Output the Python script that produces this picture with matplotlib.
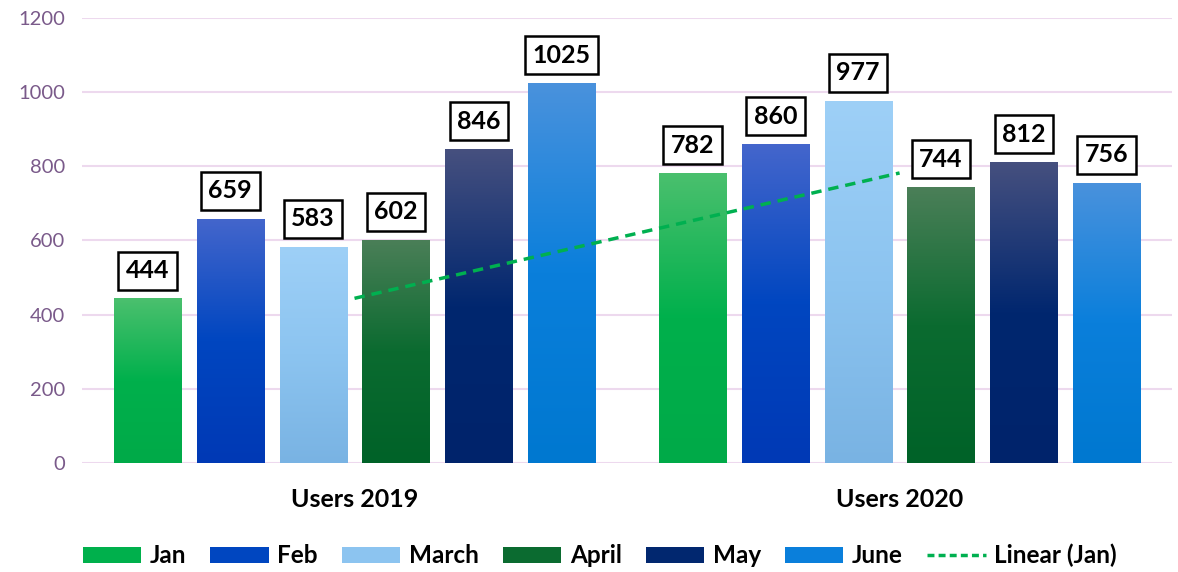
import numpy as np
import matplotlib
matplotlib.use('Agg')
import matplotlib.pyplot as plt
from matplotlib.colors import LinearSegmentedColormap
from matplotlib.patches import Patch
from matplotlib.lines import Line2D

# Data
groups = ['Users 2019', 'Users 2020']
months = ['Jan', 'Feb', 'March', 'April', 'May', 'June']
jan = [444, 782]
feb = [659, 860]
march = [583, 977]
april = [602, 744]
may = [846, 812]
june = [1025, 756]
series = [jan, feb, march, april, may, june]

# gradient colours: bottom, middle, top
tops = ['#4BC06E', '#4466CC', '#9ED0F7', '#4B7F58', '#46507F', '#4A92DD']
mids = ['#00B04C', '#0046C0', '#8CC4F0', '#0B6B30', '#01276F', '#0A7FDB']
bottoms = ['#00AA48', '#0039B5', '#79B3E3', '#006228', '#00236B', '#0078D0']

plt.rcParams['font.family'] = ['Lato', 'DejaVu Sans']

fig = plt.figure(figsize=(11.78, 5.72), dpi=100)
ax = fig.add_axes([0.0696, 0.1906, 0.9254, 0.778])

x = np.arange(len(groups))
pitch = 0.152
width = 0.123
for i, vals in enumerate(series):
    pos = x + (i - 2.5) * pitch
    bars = ax.bar(pos, vals, width, color='none', edgecolor='none', zorder=3)
    cmap = LinearSegmentedColormap.from_list('g%d' % i, [(0, bottoms[i]), (0.5, mids[i]), (1, tops[i])])
    for b, v in zip(bars, vals):
        grad = np.linspace(0, 1, 256).reshape(-1, 1)
        im = ax.imshow(grad, cmap=cmap, origin='lower', aspect='auto',
                       extent=[b.get_x(), b.get_x() + b.get_width(), 0, v], zorder=3)
        im.set_clip_path(b)
        ax.text(b.get_x() + b.get_width() / 2, v + 75, str(v), ha='center', va='center',
                fontsize=18, fontweight='bold', color='black', zorder=5,
                bbox=dict(boxstyle='square,pad=0.3', fc='white', ec='black', lw=1.8))

# linear trendline for Jan
coef = np.polyfit(x, jan, 1)
ax.plot(x, np.polyval(coef, x), color='#00B050', ls=(0, (3, 2)), lw=2.5, zorder=4)

ax.set_xlim(-0.5, 1.5)
ax.set_ylim(0, 1200)
ax.set_yticks(range(0, 1201, 200))
ax.set_xticks(x)
ax.set_xticklabels(groups, fontsize=18, fontweight='bold')
ax.tick_params(axis='x', length=0, pad=18)
ax.tick_params(axis='y', length=0, labelsize=14.5, labelcolor='#7A5A8A', pad=12)
ax.grid(axis='y', color='#EDD9EE', lw=1.5, zorder=0)
ax.set_axisbelow(True)
for s in ax.spines.values():
    s.set_visible(False)

handles = [Patch(facecolor=mids[i], label=months[i]) for i in range(6)]
handles.append(Line2D([0], [0], color='#00B050', ls=(0, (2, 1.2)), lw=2.5, label='Linear (Jan)'))
leg = fig.legend(handles=handles, loc='lower center', bbox_to_anchor=(0.509, -0.03), ncol=7,
                 frameon=False, prop={'size': 17.5, 'weight': 'bold'},
                 handlelength=2.4, handleheight=0.65, columnspacing=1.0, handletextpad=0.35)

fig.savefig('out.png', dpi=100)
